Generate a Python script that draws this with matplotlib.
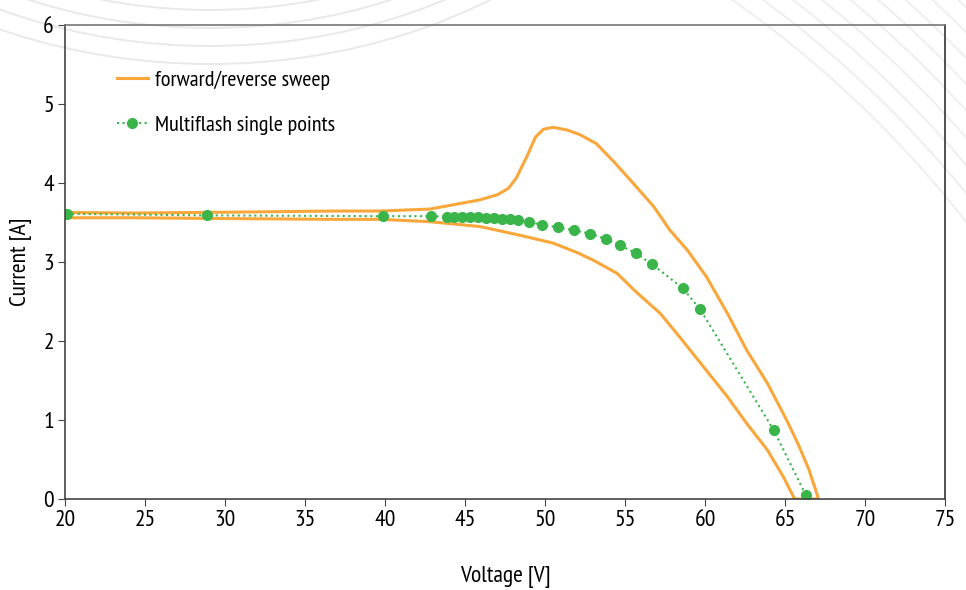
import numpy as np
import matplotlib.pyplot as plt
from matplotlib.patches import Arc

plt.rcParams['font.family'] = ['PT Sans Narrow', 'Roboto Condensed', 'DejaVu Sans']

# orange sweep: forward branch (lower) from 20 V to Voc, reverse branch (upper) back to 20 V
fwd_v = [20.0, 24.3, 30.0, 36.8, 39.7, 42.8, 45.9, 48.4, 50.5, 52.0, 53.0, 54.5,
         55.7, 57.2, 58.4, 59.9, 61.4, 62.6, 63.9, 64.9, 65.6]
fwd_i = [3.56, 3.56, 3.55, 3.54, 3.54, 3.51, 3.45, 3.34, 3.24, 3.12, 3.025, 2.857,
         2.62, 2.35, 2.055, 1.675, 1.295, 0.958, 0.62, 0.28, 0.0]
rev_v = [67.1, 66.5, 65.8, 65.1, 63.9, 62.6, 61.4, 60.1, 58.9, 57.8, 56.8, 55.5, 54.3,
         53.2, 52.2, 51.4, 50.5, 49.9, 49.4, 48.9, 48.2, 47.7, 47.0, 45.9, 42.8, 39.7,
         36.8, 30.0, 24.3, 20.0]
rev_i = [0.0, 0.37, 0.705, 1.0, 1.465, 1.886, 2.35, 2.81, 3.15, 3.405, 3.70, 4.00, 4.27,
         4.50, 4.61, 4.67, 4.705, 4.68, 4.58, 4.35, 4.06, 3.93, 3.85, 3.785, 3.67, 3.645,
         3.645, 3.63, 3.62, 3.627]

# multiflash single points
mf_v = [20.1, 28.9, 39.9, 42.9, 43.9, 44.3, 44.8, 45.3, 45.8, 46.3, 46.8, 47.3, 47.8, 48.3,
        49.0, 49.8, 50.8, 51.8, 52.8, 53.8, 54.7, 55.7, 56.7, 58.6, 59.7, 64.3, 66.3]
mf_i = [3.61, 3.59, 3.58, 3.58, 3.57, 3.57, 3.57, 3.57, 3.57, 3.56, 3.56, 3.55, 3.54, 3.53,
        3.51, 3.47, 3.44, 3.40, 3.36, 3.29, 3.21, 3.11, 2.97, 2.67, 2.40, 0.87, 0.05]

orange = '#F9A73B'
green = '#3AB54A'

fig = plt.figure(figsize=(9.66, 5.9), dpi=100)

# faint decorative arcs behind the chart
bg = fig.add_axes([0, 0, 1, 1], zorder=-1)
bg.set_xlim(0, 966)
bg.set_ylim(590, 0)
bg.axis('off')
for r in range(340, 400, 18):
    bg.add_patch(Arc((210, -330), 2.6 * r, 2 * r, theta1=0, theta2=180,
                     color='#e9e9e9', lw=1.4))
for r in range(1100, 1260, 18):
    bg.add_patch(Arc((100, 900), 2 * r, 2 * r, theta1=270, theta2=360,
                     color='#efefef', lw=1.4))

ax = fig.add_axes([65 / 966, 1 - 499 / 590, 880 / 966, 474 / 590])
ax.patch.set_alpha(0)

ax.plot(fwd_v + rev_v, fwd_i + rev_i, color=orange, lw=2.2,
        label='forward/reverse sweep')
ax.plot(mf_v, mf_i, color=green, ls=':', lw=1.5, marker='o', ms=7,
        label='Multiflash single points')

ax.set_xlim(20, 75)
ax.set_ylim(0, 6)
ax.set_xticks(np.arange(20, 76, 5))
ax.set_yticks(np.arange(0, 7, 1))
ax.tick_params(labelsize=17, length=5, color='#444444', pad=3)
ax.set_xlabel('Voltage [V]', fontsize=17, labelpad=25)
ax.set_ylabel('Current [A]', fontsize=17, labelpad=8)
ax.spines['top'].set_color('#777777')
ax.spines['left'].set_color('#444444')
ax.spines['bottom'].set_color('#444444')
ax.spines['right'].set_color('#333333')
for s in ax.spines.values():
    s.set_linewidth(1.2)

ax.legend(loc='upper left', bbox_to_anchor=(0.059, 0.905), frameon=False,
          fontsize=16, handlelength=1.4, handletextpad=0.3, labelspacing=1.15,
          borderpad=0, borderaxespad=0)

fig.savefig('out.png', dpi=100)
